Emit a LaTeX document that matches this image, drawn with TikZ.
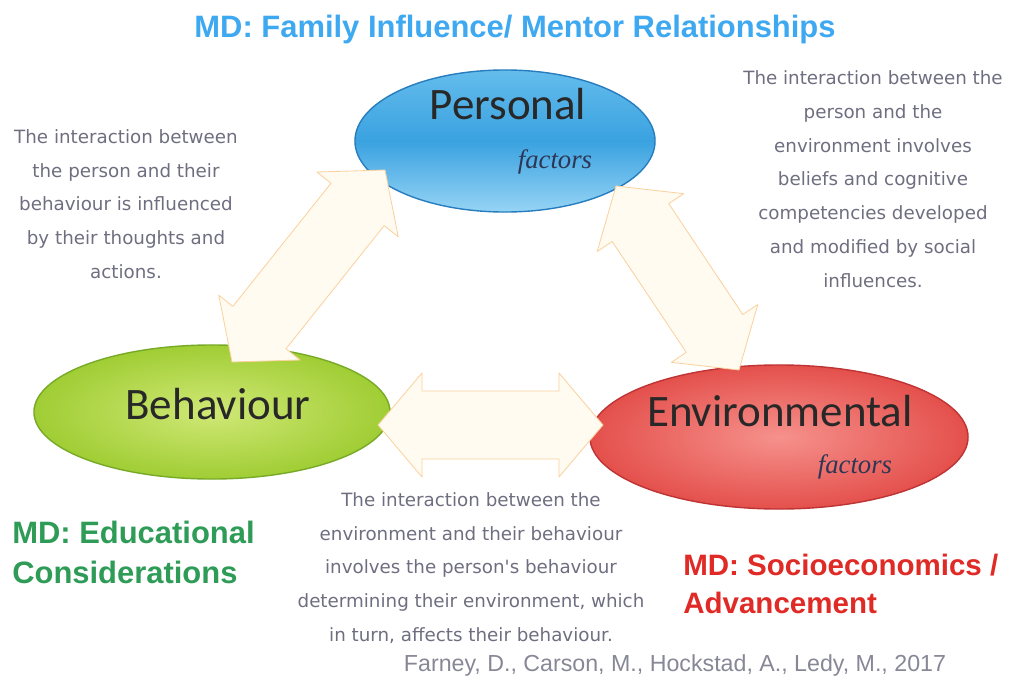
\documentclass[tikz,border=0pt]{standalone}
\usepackage{fontspec}
\setmainfont{Liberation Sans}
\newfontfamily\labelfont{Carlito}
\newfontfamily\notefont{DejaVu Sans}
\newfontfamily\factfont{Liberation Serif}
\usetikzlibrary{shapes.geometric, calc}
\definecolor{mdblue}{RGB}{62,169,240}
\definecolor{mdgreen}{RGB}{46,155,87}
\definecolor{mdred}{RGB}{224,42,38}
\definecolor{notegray}{RGB}{110,110,128}
\definecolor{citegray}{RGB}{135,135,150}
\definecolor{arrowfill}{RGB}{255,251,241}
\definecolor{arrowline}{RGB}{250,210,160}
\tikzset{
  bubble/.style={ellipse, inner sep=0pt, line width=1pt},
  mdlabel/.style={font=\bfseries\fontsize{22}{28.4}\selectfont, align=left, anchor=west, inner sep=0pt},
  note/.style={font=\notefont\fontsize{13}{24}\selectfont, text=notegray, align=center, inner sep=0pt},
  bigword/.style={font=\labelfont\fontsize{32}{36}\selectfont, text={rgb,255:red,40;green,40;blue,40}, inner sep=0pt},
  factword/.style={font=\factfont\itshape\fontsize{19}{20}\selectfont, text={rgb,255:red,45;green,55;blue,85}, inner sep=0pt},
  fatarrow/.style={fill=arrowfill, draw=arrowline, line width=0.6pt, line join=round}
}
\newcommand{\headlen}{1.1cm}
\newcommand{\headwd}{1.3cm}
\newcommand{\shaftwd}{0.85cm}
%% block arrow with a head at both ends, tips #1 and #2
\newcommand{\twoway}[2]{%
  \filldraw[fatarrow] (#1)
    -- ($(#1)!\headlen!(#2)!\headwd!90:(#2)$)
    -- ($(#1)!\headlen!(#2)!\shaftwd!90:(#2)$)
    -- ($(#2)!\headlen!(#1)!\shaftwd!-90:(#1)$)
    -- ($(#2)!\headlen!(#1)!\headwd!-90:(#1)$)
    -- (#2)
    -- ($(#2)!\headlen!(#1)!\headwd!90:(#1)$)
    -- ($(#2)!\headlen!(#1)!\shaftwd!90:(#1)$)
    -- ($(#1)!\headlen!(#2)!\shaftwd!-90:(#2)$)
    -- ($(#1)!\headlen!(#2)!\headwd!-90:(#2)$)
    -- cycle;}

\begin{document}
\begin{tikzpicture}[x=0.025cm, y=-0.025cm]
  \useasboundingbox (0,0) rectangle (1021,678);
%% the three factors
  \node[bubble, minimum width=7.5cm, minimum height=3.55cm,
        top color={rgb,255:red,100;green,188;blue,236},
        bottom color={rgb,255:red,150;green,212;blue,245},
        middle color={rgb,255:red,58;green,162;blue,224},
        draw={rgb,255:red,40;green,125;blue,190}] (personal) at (505,141) {};
  \node[bubble, minimum width=8.9cm, minimum height=3.35cm,
        inner color={rgb,255:red,208;green,232;blue,118},
        outer color={rgb,255:red,160;green,205;blue,52},
        draw={rgb,255:red,120;green,170;blue,40}] (behav) at (212,412) {};
  \node[bubble, minimum width=9.45cm, minimum height=3.6cm,
        inner color={rgb,255:red,246;green,145;blue,140},
        outer color={rgb,255:red,228;green,80;blue,76},
        draw={rgb,255:red,190;green,52;blue,52}] (environ) at (779,437) {};
%% arrows between them
  \coordinate (pbB) at (232,362);
  \coordinate (pbP) at (385,170);
  \coordinate (peP) at (616,186);
  \coordinate (peE) at (739,370);
  \coordinate (beB) at (378,425);
  \coordinate (beE) at (603,425);
  \twoway{pbB}{pbP}
  \twoway{peP}{peE}
  \twoway{beB}{beE}
%% words in the ellipses
  \node[bigword] (personalTxt) at (508,104) {Personal};
  \node[factword] (personalFac) at (555,162) {factors};
  \node[bigword] (behavTxt) at (218,404) {Behaviour};
  \node[bigword] (environTxt) at (780,411) {Environmental};
  \node[factword] (environFac) at (855,467) {factors};
%% notes
  \node[note] (noteL) at (126,204) {The interaction between\\the person and their\\behaviour is influenced\\by their thoughts and\\actions.};
  \node[note] (noteR) at (873,179) {The interaction between the\\person and the\\environment involves\\beliefs and cognitive\\competencies developed\\and modified by social\\influences.};
  \node[note] (noteB) at (471,568) {The interaction between the\\environment and their behaviour\\involves the person's behaviour\\determining their environment, which\\in turn, affects their behaviour.};
%% MD labels
  \node[font=\bfseries\fontsize{22}{26}\selectfont, text=mdblue, inner sep=0pt] (mdTop) at (515,30) {MD: Family Influence/ Mentor Relationships};
  \node[mdlabel, text=mdgreen] (mdLeft) at (12,552) {MD: Educational\\Considerations};
  \node[mdlabel, text=mdred, font=\bfseries\fontsize{21}{27}\selectfont] (mdRight) at (683,584) {MD: Socioeconomics /\\Advancement};
  \node[font=\fontsize{16.5}{18}\selectfont, text=citegray, inner sep=0pt] (cite) at (675,665) {Farney, D., Carson, M., Hockstad, A., Ledy, M., 2017};
\end{tikzpicture}
\end{document}
